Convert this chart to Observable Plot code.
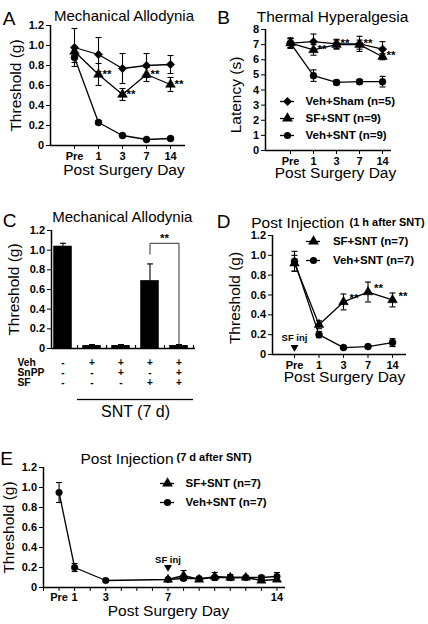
<!DOCTYPE html>
<html><head><meta charset="utf-8">
<script src="https://cdn.jsdelivr.net/npm/d3@7"></script>
<script src="https://cdn.jsdelivr.net/npm/@observablehq/plot@0.6"></script>
<style>
html,body{margin:0;padding:0;background:#fff;}
#fig{position:relative;width:428px;height:624px;overflow:hidden;background:#fff;}
</style></head><body><div id="fig"></div>
<script>
// ---------- data ----------
const dayLabels = ["Pre","1","3","7","14"];
const dayIndex = [0,1,2,3,4];
const thrTicks = [0,0.2,0.4,0.6,0.8,1.0,1.2];
const latTicks = [0,1,2,3,4,5,6,7,8];

// Panel A
const aShamMean = [0.98,0.91,0.77,0.80,0.81];
const aShamErr  = [0.19,0.17,0.15,0.12,0.09];
const aSfMean   = [0.94,0.71,0.51,0.71,0.61];
const aSfErr    = [0.04,0.11,0.06,0.07,0.07];
const aVehMean  = [0.88,0.23,0.10,0.06,0.07];
const aVehErr   = [0.05,0.02,0.01,0.01,0.01];
const aStarIdx  = [1,2,3,4];

// Panel B
const bShamMean = [7.1,7.2,7.05,7.05,6.7];
const bShamErr  = [0.35,0.5,0.3,0.5,0.5];
const bSfMean   = [7.1,6.65,7.0,7.0,6.2];
const bSfErr    = [0.3,0.35,0.3,0.3,0.2];
const bVehMean  = [7.1,4.95,4.5,4.55,4.55];
const bVehErr   = [0.3,0.38,0.15,0.15,0.35];
const bStarIdx  = [1,2,3,4];
const bLegend   = ["Veh+Sham (n=5)","SF+SNT (n=9)","Veh+SNT (n=9)"];
const bLegendSym = ["diamond2","triangle","circle"];

// Panel C
const cGroups = ["Sham","Veh","Veh+SnPP","Veh+SF","Veh+SnPP+SF"];
const cMean = [1.04,0.03,0.03,0.69,0.03];
const cErr  = [0.03,0.01,0.01,0.17,0.01];
const cRowNames = ["Veh","SnPP","SF"];
const cRowVeh  = ["-","+","+","+","+"];
const cRowSnPP = ["-","-","+","-","+"];
const cRowSF   = ["-","-","-","+","+"];
const cBracketG = [3,3,4,4];
const cBracketV = [0.96,1.07,1.07,0.05];

// Panel D
const dSfMean  = [0.92,0.30,0.53,0.63,0.55];
const dSfErr   = [0.08,0.04,0.08,0.10,0.07];
const dVehMean = [0.94,0.20,0.07,0.08,0.12];
const dVehErr  = [0.10,0.03,0.01,0.01,0.04];
const dStarIdx = [2,3,4];
const dSfInjDay = 0;
const dLegend = ["SF+SNT (n=7)","Veh+SNT (n=7)"];
const dLegendSym = ["triangle","circle"];

// Panel E
const eTicks = [-1,0,1,2,3,4,5,6,7,8,9,10,11,12,13,14];
const eTickText = ["","Pre","1","","3","","","","7","","","","","","","14"];
const eVehDays = [0,1,3,7,8,9,10,11,12,13,14];
const eVehMean = [0.95,0.20,0.07,0.08,0.09,0.09,0.10,0.10,0.10,0.10,0.11];
const eVehErr  = [0.10,0.04,0.01,0.01,0.02,0.01,0.02,0.02,0.01,0.02,0.04];
const eSfDays  = [7,8,9,10,11,12,13,14];
const eSfMean  = [0.08,0.12,0.08,0.11,0.10,0.10,0.07,0.08];
const eSfErr   = [0.01,0.05,0.01,0.04,0.03,0.01,0.01,0.01];
const eSfInjDay = 7;
const eLegend = ["SF+SNT (n=7)","Veh+SNT (n=7)"];
const eLegendSym = ["triangle","circle"];

// ---------- helpers ----------
const FONT = "'Liberation Sans', Arial, Helvetica, sans-serif";
const fig = document.getElementById("fig");
const fmt = d => d === 0 ? "0" : d.toFixed(1);
const capSym = {draw(ctx, size){ const r = Math.sqrt(size/Math.PI); ctx.moveTo(-r,0); ctx.lineTo(r,0); }};
const downTri = {draw(ctx, size){ const s = Math.sqrt(size/Math.PI); ctx.moveTo(-s,-s*0.8); ctx.lineTo(s,-s*0.8); ctx.lineTo(0,s*0.9); ctx.closePath(); }};

function place(svg, left, top){
  svg.style.position = "absolute";
  svg.style.left = left + "px";
  svg.style.top = top + "px";
  svg.style.maxWidth = "none";
  fig.appendChild(svg);
}
function P(opts){
  return Plot.plot({...opts, style:{fontFamily: FONT, fontSize:"11px", fontWeight:"bold", background:"transparent", overflow:"visible", color:"black"}});
}
function T(str, frameAnchor, dx, dy, o = {}){
  return Plot.text([str], {text: d => d, frameAnchor, dx, dy, textAnchor:"middle", fontSize:15.5, fontWeight:"normal", ...o});
}
function series(xs, means, errs, symbol, r){
  const data = xs.map((x,i) => ({x, m: means[i], e: errs[i]}));
  return [
    Plot.ruleX(data, {x:"x", y1: d => d.m - d.e, y2: d => d.m + d.e, stroke:"black", strokeWidth:1.1}),
    Plot.dot(data, {x:"x", y: d => d.m + d.e, symbol: capSym, r: 3, fill:"none", stroke:"black", strokeWidth:1.1}),
    Plot.dot(data, {x:"x", y: d => d.m - d.e, symbol: capSym, r: 3, fill:"none", stroke:"black", strokeWidth:1.1}),
    Plot.line(data, {x:"x", y:"m", stroke:"black", strokeWidth:1.3}),
    Plot.dot(data, {x:"x", y:"m", symbol, r, fill:"black", stroke:"black", strokeWidth:0.5})
  ];
}
function stars(idx, means, dx, dy){
  return Plot.text(idx, {x: i => i, y: i => means[i], text: () => "**", textAnchor:"start", dx, dy, fontSize:11.5, fontWeight:"bold"});
}
function legend(names, syms, left, top, gap, dxText){
  const n = names.length;
  const marks = [Plot.ruleY(names, {y: d => d, stroke:"black", strokeWidth:1.3})];
  names.forEach((nm,i) => marks.push(Plot.dot([nm], {y: d => d, symbol: syms[i], r: syms[i] === "circle" ? 3.6 : 4, fill:"black"})));
  marks.push(Plot.text(names, {y: d => d, text: d => d, frameAnchor:"right", textAnchor:"start", dx: dxText, fontSize:11.5, fontWeight:"bold"}));
  const svg = P({width: 154, height: (n-1)*gap, marginLeft:0, marginRight:140, marginTop:0, marginBottom:0,
    y: {type:"point", domain: names, range:[0,(n-1)*gap], padding:0, axis:null}, marks});
  place(svg, left, top);
}
const axisOpts = {tickSize:4, tickPadding:2.5, label:null};

// ---------- Panel A ----------
{
  const xDom = [-1, 4.625];
  place(P({width:214, height:200, marginLeft:50, marginRight:29, marginTop:25, marginBottom:55,
    x: {domain: xDom, ticks: dayIndex, tickFormat: i => dayLabels[i], ...axisOpts},
    y: {domain: [0,1.2], ticks: thrTicks, tickFormat: fmt, ...axisOpts},
    marks: [
      Plot.ruleY([0], {strokeWidth:1.5}),
      Plot.ruleX([xDom[0]], {strokeWidth:1.5}),
      ...series(dayIndex, aShamMean, aShamErr, "diamond2", 3.8),
      ...series(dayIndex, aSfMean, aSfErr, "triangle", 3.6),
      ...series(dayIndex, aVehMean, aVehErr, "circle", 3.5),
      stars(aStarIdx, aSfMean, 4, 0),
      T("A", "top-left", -41.5, -14, {fontSize:19}),
      T("Mechanical Allodynia", "top", 6, -15.5, {fontSize:15}),
      T("Post Surgery Day", "bottom", 6, 29.5),
      T("Threshold (g)", "left", -34.5, 0, {rotate:-90})
    ]}), 0, 0);
}

// ---------- Panel B ----------
{
  const xDom = [-1.087, 4.39];
  place(P({width:214, height:200, marginLeft:51, marginRight:37, marginTop:29, marginBottom:50,
    x: {domain: xDom, ticks: dayIndex, tickFormat: i => dayLabels[i], ...axisOpts},
    y: {domain: [0,8], ticks: latTicks, ...axisOpts},
    marks: [
      Plot.ruleY([0], {strokeWidth:1.5}),
      Plot.ruleX([xDom[0]], {strokeWidth:1.5}),
      ...series(dayIndex, bShamMean, bShamErr, "diamond2", 3.8),
      ...series(dayIndex, bSfMean, bSfErr, "triangle", 3.6),
      ...series(dayIndex, bVehMean, bVehErr, "circle", 3.5),
      stars(bStarIdx, bSfMean, 4, -1),
      T("B", "top-left", -42, -19, {fontSize:19}),
      T("Thermal Hyperalgesia", "top", 4, -19, {fontSize:15.5}),
      T("Post Surgery Day", "bottom", 7, 27.5),
      T("Latency (s)", "left", -29.3, 5, {rotate:-90})
    ]}), 214, 0);
  legend(bLegend, bLegendSym, 279.7, 100, 17.5, 11);
}

// ---------- Panel C ----------
{
  const r0 = 51, r1 = 190, pi = 0.36, po = 0.077;
  const step = (r1 - r0) / (cGroups.length - pi + 2*po);
  const bw = step * (1 - pi);
  const axisDx = -(step*po + bw/2);
  const cData = cGroups.map((g,i) => ({g, m: cMean[i], e: cErr[i]}));
  const bracket = cBracketG.map((gi,k) => ({g: cGroups[gi], v: cBracketV[k]}));
  const rowVals = [cRowVeh, cRowSnPP, cRowSF];
  const rowDy = [14.7, 24.7, 34.2];
  const tableMarks = [];
  rowVals.forEach((vals, r) => {
    tableMarks.push(Plot.text(cGroups, {x: d => d, y: 0, text: (d,i) => vals[i], dy: rowDy[r], fontSize:10, fontWeight:"bold"}));
    tableMarks.push(Plot.text([cRowNames[r]], {text: d => d, frameAnchor:"left", y: 0, dx:-34, dy: rowDy[r], textAnchor:"start", fontSize:10.3, fontWeight:"bold"}));
  });
  place(P({width:214, height:224, marginLeft:51, marginRight:19, marginTop:30, marginBottom:76,
    x: {type:"band", domain: cGroups, range:[r0, r1], paddingInner: pi, paddingOuter: po, round:false, axis:null},
    y: {domain: [0,1.2], ticks: thrTicks, tickFormat: fmt, ...axisOpts},
    marks: [
      Plot.barY(cData, {x:"g", y:"m", fill:"black"}),
      Plot.ruleX(cData, {x:"g", y1:"m", y2: d => d.m + d.e, stroke:"black", strokeWidth:1.1}),
      Plot.dot(cData, {x:"g", y: d => d.m + d.e, symbol: capSym, r:3, fill:"none", stroke:"black", strokeWidth:1.1}),
      Plot.ruleY([0], {strokeWidth:1.5}),
      Plot.ruleX([cGroups[0]], {x: d => d, dx: axisDx, strokeWidth:1.5}),
      Plot.ruleX(cGroups, {x: d => d, y1: 0, y2: 0, insetTop:-3, dx: step/2, strokeWidth:1.2}),
      Plot.line(bracket, {x:"g", y:"v", stroke:"#333", strokeWidth:1}),
      Plot.text([cGroups[3]], {x: d => d, y: cBracketV[1], text: () => "**", dx: step/2, dy: -5, fontSize:11.5, fontWeight:"bold"}),
      ...tableMarks,
      Plot.tickY(cGroups.slice(1), {x: d => d, y: 0, dy: 51, insetLeft: -(step-bw)/2, insetRight: -(step-bw)/2, strokeWidth:1.3}),
      Plot.text([cGroups[2]], {x: d => d, y: 0, text: () => "SNT (7 d)", dx: step/2, dy: 63.5, fontSize:16, fontWeight:"normal"}),
      T("C", "top-left", -42, -17.5, {fontSize:19}),
      T("Mechanical Allodynia", "top", -1.2, -19, {fontSize:15}),
      T("Threshold (g)", "left", -37.5, 0, {rotate:-90})
    ]}), 0, 200);
}

// ---------- Panel D ----------
{
  const xDom = [-0.898, 4.571];
  place(P({width:214, height:200, marginLeft:58, marginRight:22, marginTop:35, marginBottom:46,
    x: {domain: xDom, ticks: dayIndex, tickFormat: i => dayLabels[i], ...axisOpts},
    y: {domain: [0,1.2], ticks: thrTicks, tickFormat: fmt, ...axisOpts},
    marks: [
      Plot.ruleY([0], {strokeWidth:1.5}),
      Plot.ruleX([xDom[0]], {strokeWidth:1.5}),
      ...series(dayIndex, dVehMean, dVehErr, "circle", 3.5),
      ...series(dayIndex, dSfMean, dSfErr, "triangle", 3.6),
      stars(dStarIdx, dSfMean, 6, -4),
      Plot.text([dSfInjDay], {x: d => d, y: 0, text: () => "SF inj", dy: -16.3, fontSize:9.5, fontWeight:"bold"}),
      Plot.dot([dSfInjDay], {x: d => d, y: 0, dy: -6.3, symbol: downTri, r: 4, fill:"black"}),
      T("D", "top-left", -49, -21, {fontSize:19}),
      T("Post Injection", "top-left", -21.3, -18.5, {textAnchor:"start"}),
      T("(1 h after SNT)", "top-left", 77, -17.5, {textAnchor:"start", fontSize:11, fontWeight:"bold"}),
      T("Post Surgery Day", "bottom", 5, 27.5),
      T("Threshold (g)", "left", -37.5, 3, {rotate:-90})
    ]}), 214, 200);
  legend(dLegend, dLegendSym, 306.3, 241, 19.5, 12.4);
}

// ---------- Panel E ----------
{
  const xDom = [-1, 14.55];
  place(P({width:428, height:224, marginLeft:43, marginRight:143, marginTop:67, marginBottom:37,
    x: {domain: xDom, ticks: eTicks, tickFormat: d => eTickText[eTicks.indexOf(d)], tickSize:4, tickPadding:1.5, label:null},
    y: {domain: [0,1.2], ticks: thrTicks, tickFormat: fmt, ...axisOpts},
    marks: [
      Plot.ruleY([0], {strokeWidth:1.5}),
      Plot.ruleX([xDom[0]], {strokeWidth:1.5}),
      ...series(eVehDays, eVehMean, eVehErr, "circle", 3.3),
      ...series(eSfDays, eSfMean, eSfErr, "triangle", 3.4),
      Plot.text([eSfInjDay], {x: d => d, y: 0, text: () => "SF inj", dy: -28, fontSize:9.5, fontWeight:"bold"}),
      Plot.dot([eSfInjDay], {x: d => d, y: 0, dy: -19.3, symbol: downTri, r: 4, fill:"black"}),
      T("E", "top-left", -37, -16, {fontSize:19}),
      T("Post Injection", "top-left", 37, -15, {textAnchor:"start"}),
      T("(7 d after SNT)", "top-left", 133, -14.5, {textAnchor:"start", fontSize:11, fontWeight:"bold"}),
      T("Post Surgery Day", "bottom", 4, 28),
      T("Threshold (g)", "left", -34, 0, {rotate:-90})
    ]}), 0, 400);
  legend(eLegend, eLegendSym, 160, 482.7, 19, 11);
}
</script>
</body></html>
